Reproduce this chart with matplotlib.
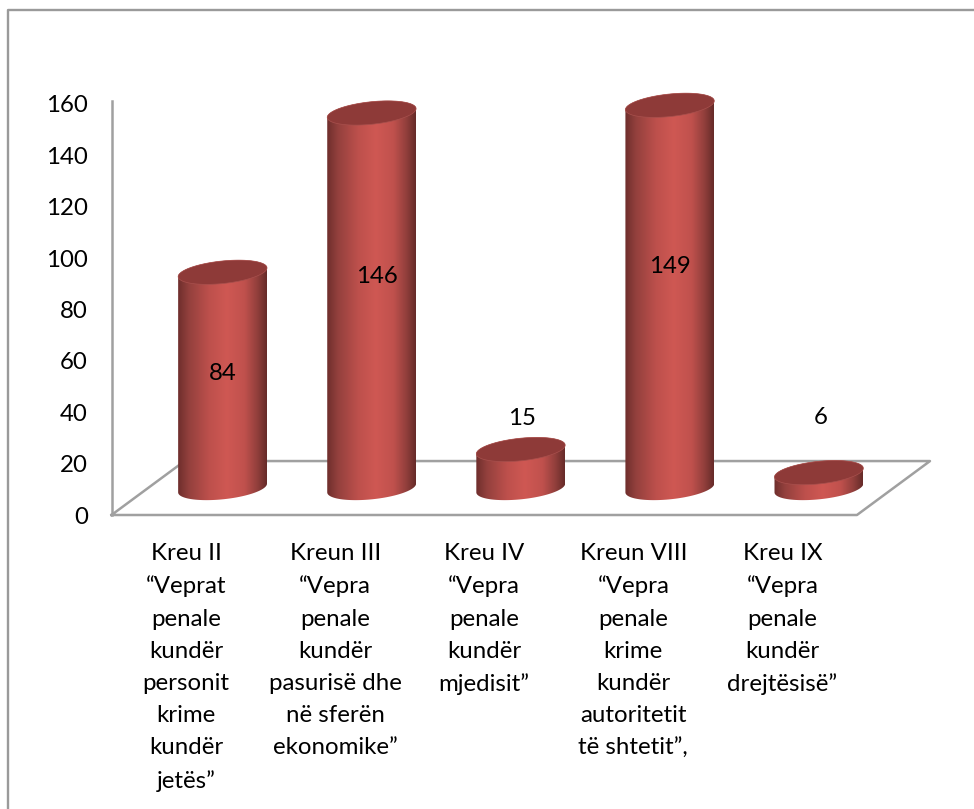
import numpy as np
import matplotlib
matplotlib.use("Agg")
import matplotlib.pyplot as plt
from matplotlib.colors import LinearSegmentedColormap
from matplotlib.lines import Line2D
from matplotlib.patches import Polygon

plt.rcParams['font.family'] = ['Lato', 'DejaVu Sans']

# chart data
categories = [
    "Kreu II\n“Veprat\npenale\nkundër\npersonit\nkrime\nkundër\njetës”",
    "Kreun III\n“Vepra\npenale\nkundër\npasurisë dhe\nnë sferën\nekonomike”",
    "Kreu IV\n“Vepra\npenale\nkundër\nmjedisit”",
    "Kreun VIII\n“Vepra\npenale\nkrime\nkundër\nautoritetit\ntë shtetit”,",
    "Kreu IX\n“Vepra\npenale\nkundër\ndrejtësisë”",
]
values = [84, 146, 15, 149, 6]
yticks = [0, 20, 40, 60, 80, 100, 120, 140, 160]

# where the value labels sit (y scale, and nudge off the cylinder centre)
label_y = [55.2, 92.8, 37.7, 96.9, 38.1]
label_dx = [0.0, 0.035, 0.01, 0.0, 0.01]

W, H = 974, 809
GREY = "#a0a0a0"
FONT = 17.3

# floor depth, in axis units
depth_x = 0.49
depth_y = 21
half_w = 0.298   # cylinder radius
ell_b = 4.4      # ellipse half height
ell_tilt = 1.7   # ellipse rise to the right

shade = LinearSegmentedColormap.from_list("cyl", [
    (0.0, "#6e2e2c"), (0.12, "#93403d"), (0.35, "#bd504c"), (0.55, "#cf5853"),
    (0.75, "#c0514d"), (0.9, "#8f3e3b"), (1.0, "#662b29")])

fig = plt.figure(figsize=(W / 100, H / 100), dpi=100)
ax = fig.add_axes([111.5 / W, 1 - 515 / H, (930 - 111.5) / W, (515 - 104) / H])
ax.set_xlim(-0.5, 4.5 + depth_x)
ax.set_ylim(0, 160)

# outer border of the picture
fig.add_artist(Line2D([8 / W, 8 / W, 1], [0, 1 - 10 / H, 1 - 10 / H], color="#9a9a9a", lw=1.7))

# wall and floor
x0 = -0.5
x1 = 4.5
ax.plot([x0, x0], [0, 161], color=GREY, lw=1.8, clip_on=False, zorder=1)
ax.plot([x0, x1, x1 + depth_x, x0 + depth_x, x0], [0, 0, depth_y, depth_y, 0],
        color=GREY, lw=1.8, clip_on=False, zorder=1)


def draw_cylinder(xc, value):
    yb = depth_y / 2
    yt = yb + value
    t1 = np.linspace(np.pi, 2 * np.pi, 60)
    t2 = np.linspace(0, np.pi, 60)
    xs = np.concatenate([xc + half_w * np.cos(t1), xc + half_w * np.cos(t2)])
    ys = np.concatenate([yb + ell_b * np.sin(t1) + ell_tilt * np.cos(t1),
                         yt + ell_b * np.sin(t2) + ell_tilt * np.cos(t2)])
    body = Polygon(np.column_stack([xs, ys]), closed=True, fc="none", ec="none",
                   clip_on=False, zorder=2)
    ax.add_patch(body)
    grad = np.linspace(0, 1, 256).reshape(1, -1)
    im = ax.imshow(grad, cmap=shade, aspect="auto", interpolation="bilinear",
                   extent=[xc - half_w, xc + half_w, yb - 10, yt + 10], zorder=2)
    im.set_clip_path(body)
    im.set_clip_box(fig.bbox)

    t = np.linspace(0, 2 * np.pi, 120)
    top = Polygon(np.column_stack([xc + half_w * np.cos(t),
                                   yt + ell_b * np.sin(t) + ell_tilt * np.cos(t)]),
                  closed=True, fc="#8e3a38", ec="#a8504d", lw=0.5, clip_on=False, zorder=3)
    ax.add_patch(top)


for i, v in enumerate(values):
    draw_cylinder(i + depth_x / 2, v)
    ax.text(i + depth_x / 2 + label_dx[i], label_y[i], str(v), ha="center", va="center",
            fontsize=FONT, color="black", zorder=5)

# imshow moves the limits
ax.set_xlim(-0.5, 4.5 + depth_x)
ax.set_ylim(0, 160)

ax.patch.set_visible(False)
for s in ax.spines.values():
    s.set_visible(False)
ax.set_yticks(yticks)
ax.set_xticks(range(len(categories)))
ax.set_xticklabels(categories, linespacing=1.66)
ax.tick_params(axis="y", length=0, pad=17, labelsize=FONT)
ax.tick_params(axis="x", length=0, pad=20, labelsize=FONT)

fig.savefig("out.png", dpi=100)
